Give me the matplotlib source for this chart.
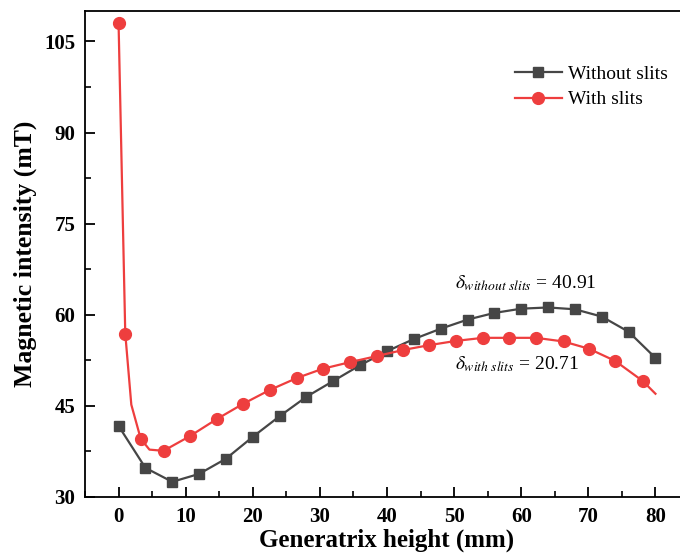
import matplotlib
matplotlib.use("Agg")
import matplotlib.pyplot as plt
import numpy as np
from matplotlib.ticker import MultipleLocator

plt.rcParams['font.family'] = ['Liberation Serif', 'DejaVu Serif']
plt.rcParams['mathtext.fontset'] = 'stix'

# without slits (squares)
x_without = [0, 4, 8, 12, 16, 20, 24, 28, 32, 36, 40, 44, 48, 52, 56, 60, 64, 68, 72, 76, 80]
y_without = [41.7, 34.8, 32.5, 33.8, 36.3, 39.9, 43.3, 46.5, 49.1, 51.7, 54.0, 56.0,
             57.7, 59.2, 60.3, 61.0, 61.2, 60.9, 59.7, 57.2, 52.9]

# with slits (circles)
x_with = [0, 1.0, 3.3, 6.7, 10.6, 14.6, 18.5, 22.5, 26.6, 30.4, 34.5, 38.5, 42.4, 46.3,
          50.3, 54.3, 58.2, 62.2, 66.3, 70.1, 74.0, 78.1]
y_with = [108.1, 56.9, 39.6, 37.6, 40.0, 42.8, 45.3, 47.6, 49.6, 51.1, 52.2, 53.2, 54.2,
          55.0, 55.7, 56.2, 56.2, 56.2, 55.6, 54.4, 52.4, 49.1]
# extra curve points without markers
x_with_extra = [1.9, 4.6, 80]
y_with_extra = [45.2, 37.8, 47.0]

delta_without = 40.91
delta_with = 20.71

gray = '#464646'
red = '#EE3E3E'

fig = plt.figure(figsize=(6.8, 5.58), dpi=100)
ax = fig.add_axes([85/680, 61/558, 604/680, 486/558])

# merge marker points with the unmarked curve points
xs = np.array(x_with + x_with_extra)
ys = np.array(y_with + y_with_extra)
order = np.argsort(xs)
xs, ys = xs[order], ys[order]
mark = order < len(x_with)

ax.plot(x_without, y_without, color=gray, lw=1.6, marker='s', ms=7.5, label='Without slits')
ax.plot(xs, ys, color=red, lw=1.6, marker='o', ms=8.5, markevery=list(mark), label='With slits')

ax.set_xlim(-5, 85)
ax.set_ylim(30, 110)
ax.xaxis.set_major_locator(MultipleLocator(10))
ax.xaxis.set_minor_locator(MultipleLocator(5))
ax.yaxis.set_major_locator(MultipleLocator(15))
ax.yaxis.set_minor_locator(MultipleLocator(7.5))
ax.tick_params(which='major', direction='in', length=7, width=1.3, labelsize=15, pad=7)
ax.tick_params(which='minor', direction='in', length=4, width=1.2)
for lab in ax.get_xticklabels() + ax.get_yticklabels():
    lab.set_fontweight('bold')
for sp in ax.spines.values():
    sp.set_linewidth(1.3)
ax.spines['right'].set_visible(False)

ax.set_xlabel('Generatrix height (mm)', fontsize=18, fontweight='bold', labelpad=1)
ax.set_ylabel('Magnetic intensity (mT)', fontsize=18.5, fontweight='bold', labelpad=5)

ax.text(50.2, 64.3, r'$\delta_{without\ slits}$' + ' = %.2f' % delta_without, fontsize=14)
ax.text(50.2, 51.1, r'$\delta_{with\ slits}$' + ' = %.2f' % delta_with, fontsize=14)

ax.legend(loc='upper left', bbox_to_anchor=(0.683, 0.925), frameon=False, fontsize=14,
          handlelength=2.4, handletextpad=0.3, labelspacing=0.42)

fig.savefig('out.png', dpi=100)
